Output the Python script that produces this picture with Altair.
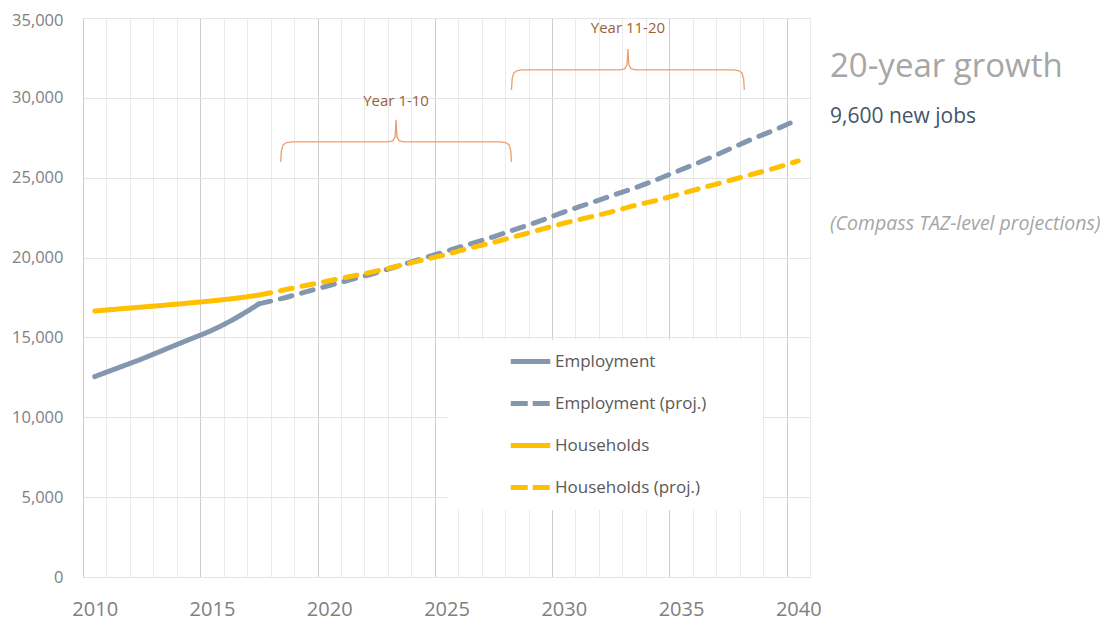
import altair as alt
import pandas as pd

# ---------------- data ----------------
years_actual = [2010, 2011, 2012, 2013, 2014, 2015, 2016, 2017]
employment_actual = [12550, 13100, 13650, 14250, 14850, 15450, 16200, 17100]
households_actual = [16650, 16780, 16900, 17020, 17150, 17290, 17450, 17650]

years_proj = [2017, 2018, 2019, 2020, 2021, 2022, 2023, 2024, 2025, 2026, 2027, 2028,
              2029, 2030, 2031, 2032, 2033, 2034, 2035, 2036, 2037, 2038, 2039, 2040]
employment_proj = [17100, 17450, 17850, 18250, 18650, 19050, 19500, 19950, 20400, 20850,
                   21300, 21800, 22300, 22850, 23350, 23850, 24350, 24900, 25500, 26100,
                   26750, 27400, 28000, 28650]
households_proj = [17650, 17950, 18250, 18550, 18850, 19150, 19500, 19850, 20200, 20600,
                   20950, 21350, 21750, 22150, 22500, 22850, 23250, 23600, 24000, 24400,
                   24800, 25200, 25600, 26050]

series_names = ["Employment", "Employment (proj.)", "Households", "Households (proj.)"]
series_colors = ["#8497B0", "#8497B0", "#FFC000", "#FFC000"]
series_dashes = [[1, 0], [12, 10], [1, 0], [12, 10]]
legend_dashes = [[1, 0], [17, 5], [1, 0], [17, 5]]

x_label_years = [2010, 2015, 2020, 2025, 2030, 2035, 2040]
x_grid_years = [y + 0.5 for y in range(2009, 2041)]
y_ticks = [0, 5000, 10000, 15000, 20000, 25000, 30000, 35000]

# annotation brackets (year / value units)
bracket_labels = ["Year 1-10", "Year 11-20"]
bracket_start = [2017.93, 2027.77]
bracket_end = [2027.77, 2037.70]
bracket_foot = [25990, 30500]
bracket_bar = [27240, 31750]
bracket_tip = [28620, 33060]
bracket_text_y = [29800, 34380]

# legend background box (year / value units)
legend_box_x = [2025.04]
legend_box_x2 = [2038.46]
legend_box_y = [4195]
legend_box_y2 = [14840]

side_texts = ["20-year growth", "9,600 new jobs", "(Compass TAZ-level projections)"]

# ---------------- tables ----------------
rows = []
for y, v in zip(years_actual, employment_actual):
    rows.append({"year": y, "value": v, "series": series_names[0]})
for y, v in zip(years_proj, employment_proj):
    rows.append({"year": y, "value": v, "series": series_names[1]})
for y, v in zip(years_actual, households_actual):
    rows.append({"year": y, "value": v, "series": series_names[2]})
for y, v in zip(years_proj, households_proj):
    rows.append({"year": y, "value": v, "series": series_names[3]})
df = pd.DataFrame(rows)

brows = []
for i, name in enumerate(bracket_labels):
    L, R = bracket_start[i], bracket_end[i]
    T = (L + R) / 2
    f, b, t = bracket_foot[i], bracket_bar[i], bracket_tip[i]
    h = b - f
    pts = [
        (L, f), (L + 0.03, f + 0.55 * h), (L + 0.1, f + 0.85 * h), (L + 0.25, f + 0.97 * h), (L + 0.45, b),
        (T - 0.35, b), (T - 0.14, b + 0.05 * h), (T - 0.04, b + 0.25 * h), (T, t),
        (T + 0.04, b + 0.25 * h), (T + 0.14, b + 0.05 * h), (T + 0.35, b),
        (R - 0.45, b), (R - 0.25, f + 0.97 * h), (R - 0.1, f + 0.85 * h), (R - 0.03, f + 0.55 * h), (R, f),
    ]
    for k, (px, py) in enumerate(pts):
        brows.append({"bracket": name, "k": k, "x": px, "y": py})
bdf = pd.DataFrame(brows)
btext = pd.DataFrame({"label": bracket_labels,
                      "x": [(a + b) / 2 for a, b in zip(bracket_start, bracket_end)],
                      "y": bracket_text_y})
box = pd.DataFrame({"x": legend_box_x, "x2": legend_box_x2, "y": legend_box_y, "y2": legend_box_y2})

FONT = "Open Sans"
xscale = alt.Scale(domain=[2009.5, 2040.5], nice=False, zero=False)
yscale = alt.Scale(domain=[0, 35000], nice=False)

# ---------------- layers ----------------
grid_color = alt.condition("(datum.value - 2009.5) % 5 == 0", alt.value("#CDCDCD"), alt.value("#EAEAEA"))
top_label_offset = alt.condition("datum.value == 35000", alt.value(2), alt.value(0))

box_layer = alt.Chart(box).mark_rect(color="white").encode(
    x=alt.X("x:Q", scale=xscale, axis=alt.Axis(values=x_grid_years, grid=True, gridColor=grid_color,
                                                 gridWidth=1, labels=False, ticks=False, domain=False,
                                                 title=None, orient="bottom")),
    x2="x2:Q",
    y=alt.Y("y:Q", scale=yscale, axis=alt.Axis(values=y_ticks, grid=True, gridColor="#E4E4E4",
                                                 ticks=False, domain=False, title=None, format=",.0f",
                                                 labelFont=FONT, labelFontSize=16.5, labelColor="#808080",
                                                 labelPadding=20, labelOffset=top_label_offset,
                                                 orient="left")),
    y2="y2:Q",
)

legend_cfg = dict(orient="none", legendX=425, legendY=321, title=None, symbolType="stroke",
                  symbolSize=1560, symbolStrokeWidth=5, symbolOpacity=1, labelFont=FONT, labelFontSize=17,
                  labelColor="#595959", labelOffset=2, rowPadding=9, padding=0)

lines = alt.Chart(df).mark_line(strokeWidth=5, strokeCap="round", strokeJoin="round",
                                interpolate="monotone").encode(
    x=alt.X("year:Q", scale=xscale, axis=alt.Axis(values=x_label_years, grid=False, ticks=False,
                                                   domain=False, title=None, format="d",
                                                   labelFont=FONT, labelFontSize=20, labelColor="#808080",
                                                   labelPadding=22, orient="bottom")),
    y=alt.Y("value:Q", scale=yscale, axis=None),
    color=alt.Color("series:N", scale=alt.Scale(domain=series_names, range=series_colors), legend=None),
    strokeDash=alt.StrokeDash("series:N", scale=alt.Scale(domain=series_names, range=series_dashes),
                              legend=None),
)

legend_layer = alt.Chart(df).mark_line(strokeWidth=5, opacity=0).encode(
    x=alt.X("year:Q", scale=xscale, axis=None),
    y=alt.Y("value:Q", scale=yscale, axis=None),
    color=alt.Color("series:N", scale=alt.Scale(domain=series_names, range=series_colors),
                    legend=alt.Legend(**legend_cfg)),
    strokeDash=alt.StrokeDash("series:N", scale=alt.Scale(domain=series_names, range=legend_dashes),
                              legend=alt.Legend(**legend_cfg)),
)

bracket_layer = alt.Chart(bdf).mark_line(color="#EE9E6A", strokeWidth=1.3).encode(
    x=alt.X("x:Q", scale=xscale, axis=None),
    y=alt.Y("y:Q", scale=yscale, axis=None),
    detail="bracket:N",
    order="k:Q",
)

bracket_text = alt.Chart(btext).mark_text(font=FONT, fontSize=15, color="#9C5F3A").encode(
    x=alt.X("x:Q", scale=xscale, axis=None),
    y=alt.Y("y:Q", scale=yscale, axis=None),
    text="label:N",
)

t1 = alt.Chart(pd.DataFrame({"t": [side_texts[0]]})).mark_text(
    font=FONT, fontSize=33, color="#A6A6A6", align="left", baseline="alphabetic"
).encode(x=alt.value(747), y=alt.value(59), text="t:N")
t2 = alt.Chart(pd.DataFrame({"t": [side_texts[1]]})).mark_text(
    font=FONT, fontSize=21, color="#44546A", align="left", baseline="alphabetic"
).encode(x=alt.value(747), y=alt.value(105), text="t:N")
t3 = alt.Chart(pd.DataFrame({"t": [side_texts[2]]})).mark_text(
    font=FONT, fontSize=19.5, fontStyle="italic", color="#A6A6A6", align="left", baseline="alphabetic"
).encode(x=alt.value(747), y=alt.value(212), text="t:N")

chart = alt.layer(box_layer, lines, legend_layer, bracket_layer, bracket_text, t1, t2, t3).resolve_axis(
    x="independent", y="independent"
).resolve_scale(
    color="independent", strokeDash="independent"
).properties(
    width=727, height=559,
    padding={"left": 75, "top": 10, "right": 290, "bottom": 46},
    autosize=alt.AutoSizeParams(type="none"),
).configure_view(stroke=None).configure(background="white")

chart.save("out.html", embed_options={"renderer": "svg", "actions": False})
